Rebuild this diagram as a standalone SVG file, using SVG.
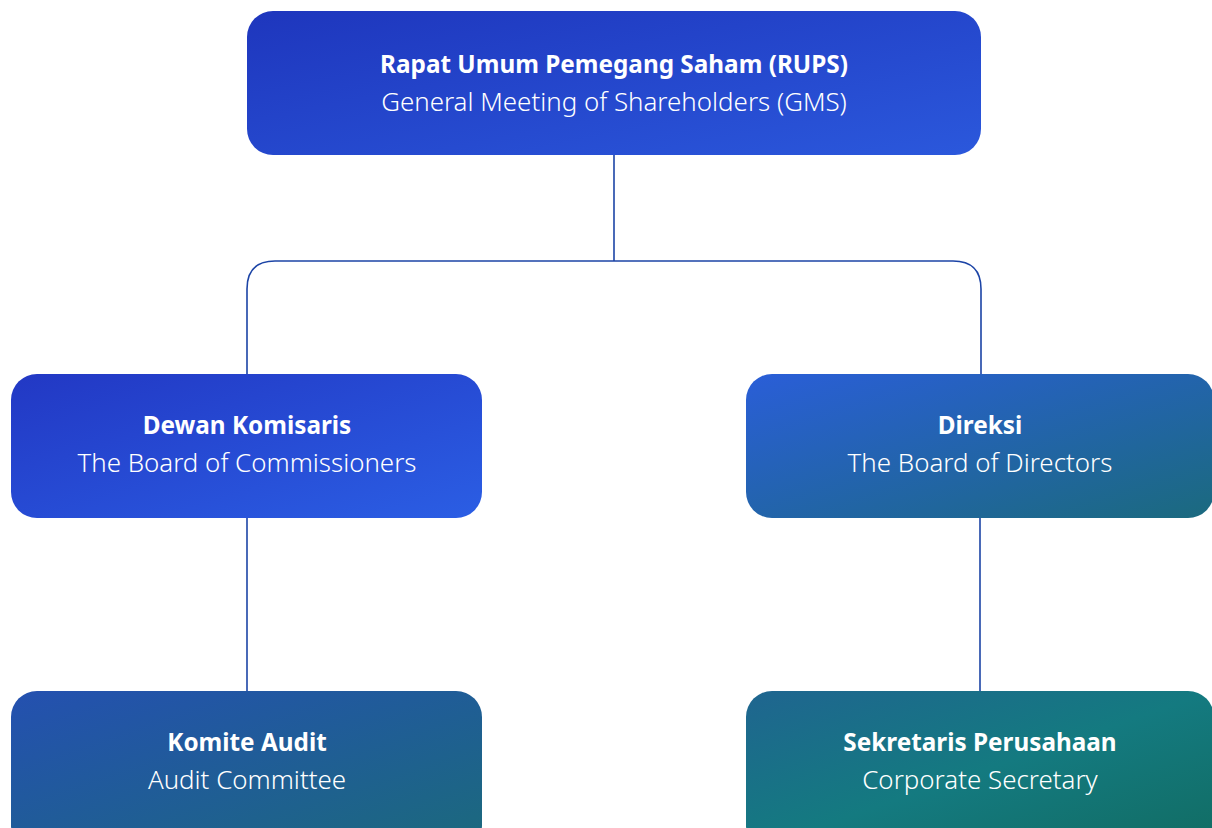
<svg xmlns="http://www.w3.org/2000/svg" width="1212" height="828" viewBox="0 0 1212 828">
<defs>
<linearGradient id="gTop" x1="0" y1="0" x2="1" y2="1"><stop offset="0" stop-color="#1e36bd"/><stop offset="1" stop-color="#2b58dc"/></linearGradient>
<linearGradient id="gL" x1="0" y1="0" x2="1" y2="1"><stop offset="0" stop-color="#2238c4"/><stop offset="1" stop-color="#2b5ee4"/></linearGradient>
<linearGradient id="gR" x1="0" y1="0" x2="1" y2="1"><stop offset="0" stop-color="#2a5ed8"/><stop offset="1" stop-color="#1b6a7e"/></linearGradient>
<linearGradient id="gBL" x1="0" y1="0" x2="1" y2="1"><stop offset="0" stop-color="#2450b0"/><stop offset="1" stop-color="#1b6a7c"/></linearGradient>
<linearGradient id="gBR" x1="0" y1="0" x2="1" y2="1"><stop offset="0" stop-color="#1f6590"/><stop offset="0.5" stop-color="#147a80"/><stop offset="1" stop-color="#116c62"/></linearGradient>
</defs>
<style>
.t1{font-family:"Noto Sans","Open Sans",sans-serif;font-weight:700;font-size:24.3px;fill:#fff;text-anchor:middle}
.t2{font-family:"Noto Sans","Open Sans",sans-serif;font-weight:300;font-size:25.9px;fill:#fff;text-anchor:middle}
.c{fill:none;stroke:#1c44a6;stroke-width:1.6}
</style>
<rect width="1212" height="828" fill="#fff"/>
<g id="connectors">
<path class="c" d="M614 155 V261"/>
<path class="c" d="M247 375 V289 Q247 261 275 261 H953 Q981 261 981 289 V375"/>
<path class="c" d="M247 518 V691"/>
<path class="c" d="M980 518 V691"/>
</g>
<g id="rups">
<rect x="247" y="11" width="734" height="144" rx="26" fill="url(#gTop)"/>
<text class="t1" x="614" y="73">Rapat Umum Pemegang Saham (RUPS)</text>
<text class="t2" x="614" y="111">General Meeting of Shareholders (GMS)</text>
</g>
<g id="dewan">
<rect x="11" y="374" width="471" height="144" rx="26" fill="url(#gL)"/>
<text class="t1" x="247" y="434">Dewan Komisaris</text>
<text class="t2" x="247" y="472">The Board of Commissioners</text>
</g>
<g id="direksi">
<rect x="746" y="374" width="468" height="144" rx="26" fill="url(#gR)"/>
<text class="t1" x="980" y="434">Direksi</text>
<text class="t2" x="980" y="472">The Board of Directors</text>
</g>
<g id="audit">
<rect x="11" y="691" width="471" height="160" rx="26" fill="url(#gBL)"/>
<text class="t1" x="247" y="751">Komite Audit</text>
<text class="t2" x="247" y="789">Audit Committee</text>
</g>
<g id="sekretaris">
<rect x="746" y="691" width="468" height="160" rx="26" fill="url(#gBR)"/>
<text class="t1" x="980" y="751">Sekretaris Perusahaan</text>
<text class="t2" x="980" y="789">Corporate Secretary</text>
</g>
</svg>
